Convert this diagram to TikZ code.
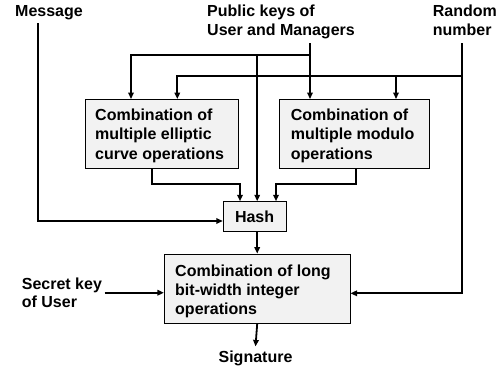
\documentclass[tikz,border=0pt]{standalone}
\usepackage{fontspec}
\setmainfont{Liberation Sans}
\usetikzlibrary{arrows.meta}
\definecolor{boxfill}{RGB}{242,242,242}
\begin{document}
\begin{tikzpicture}[x=1pt,y=-1pt,
  every node/.style={font=\fontsize{16}{18.5}\selectfont\bfseries, inner sep=0pt},
  lbl/.style={anchor=north west, align=left},
  boxtxt/.style={anchor=north west, align=left, font=\fontsize{16}{19.2}\selectfont\bfseries},
  opbox/.style={draw, line width=0.9pt, fill=boxfill, rectangle},
  conn/.style={line width=1.8pt},
  arr/.style={conn, -{Triangle[length=6.5pt,width=5.5pt]}}]
\useasboundingbox (0,0) rectangle (503,375);

% boxes
\node[opbox, minimum width=153pt, minimum height=68.5pt] (ec) at (161.5,133.75) {};
\node[opbox, minimum width=150pt, minimum height=68.5pt] (mod) at (354.3,133.75) {};
\node[opbox, minimum width=62.7pt, minimum height=30pt] (hash) at (254.6,216.7) {Hash};
\node[opbox, minimum width=185.7pt, minimum height=69.3pt] (long) at (257.2,288.7) {};

% box texts
\node[boxtxt] (ectxt) at (95,108.9) {Combination of\\multiple elliptic\\curve operations};
\node[boxtxt] (modtxt) at (290.7,108.9) {Combination of\\multiple modulo\\operations};
\node[boxtxt] (longtxt) at (175,264.4) {Combination of long\\bit-width integer\\operations};

% labels
\node[anchor=base west] (msg) at (15,16.7) {Message};
\node[lbl] (pub) at (207,5.1) {Public keys of\\User and Managers};
\node[lbl] (rnd) at (432.7,5.1) {Random\\number};
\node[lbl] (sec) at (21.7,277.4) {Secret key\\of User};
\node[anchor=base] (sig) at (255.5,362.7) {Signature};

% connector anchors
\coordinate (m0) at (38,23);
\coordinate (p0) at (310,43);
\coordinate (pj) at (310,55);
\coordinate (r0) at (461.7,43);
\coordinate (rj) at (461.7,76);

% message
\draw[arr] (m0) |- ([yshift=-4.3pt]hash.west);
% public keys
\draw[arr] (p0) -- (p0 |- mod.north);
\draw[arr] (pj) -| ([xshift=-30.5pt]ec.north);
\draw[arr] (pj -| long.north) -- (hash.north -| long.north);
% random number
\draw[arr] (r0) |- ([yshift=-4.6pt]long.east);
\draw[arr] (rj) -| ([xshift=15.8pt]ec.north);
\draw[arr] ([xshift=41.7pt]mod.north |- rj) -- ([xshift=41.7pt]mod.north);
% box outputs to hash
\draw[arr] ([xshift=-9.2pt]ec.south) -- ++(0,15.3) -| ([xshift=-14.6pt]hash.north);
\draw[arr] ([xshift=1.7pt]mod.south) -- ++(0,15.3) -| ([xshift=21.4pt]hash.north);
% hash to long
\draw[arr] (hash.south -| long.north) -- (long.north);
% secret key
\draw[arr] ([xshift=2.5pt]sec.east) -- (sec.east -| long.west);
% signature
\draw[arr] (long.south) -- ([yshift=4.5pt]sig.north);
\end{tikzpicture}
\end{document}
